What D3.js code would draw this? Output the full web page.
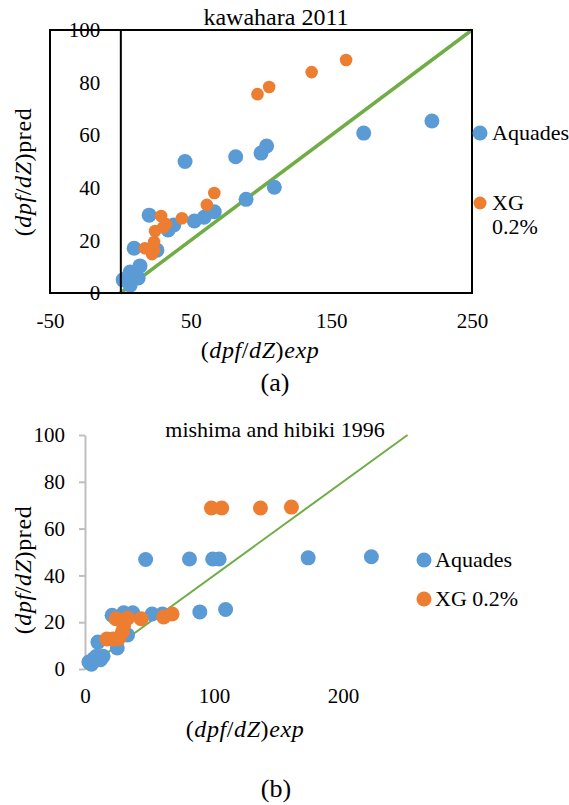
<!DOCTYPE html>
<html>
<head>
<meta charset="utf-8">
<script src="https://cdn.jsdelivr.net/npm/d3@7"></script>
<style>
  body { margin: 0; background: #fff; }
  svg { display: block; font-family: "Times New Roman", "Liberation Serif", serif; }
</style>
</head>
<body>
<svg id="chart" width="569" height="805"></svg>
<script>
"use strict";

// (a) kawahara 2011 : [exp, pred]
const aquadesA = [[2, 5], [4.7, 5.7], [7, 3], [7, 8], [10.5, 6.1], [12.7, 5.7], [14, 10.3], [9.8, 17],
    [26, 16.3], [20.5, 29.6], [34, 24], [38, 25.9], [46, 50], [52.6, 27.4], [59.6, 28.8], [66.8, 30.9],
    [82, 51.8], [89.4, 35.6], [100, 53.2], [104, 55.9], [109.5, 40.2], [173, 60.8], [221.5, 65.4]];
const xgA = [[17.5, 17], [22.5, 14.8], [24, 16.3], [24, 19.4], [24.7, 23.6], [30.5, 25], [29, 29.3],
    [32.5, 26.2], [43.8, 28.4], [61.5, 33.5], [66.8, 38], [97.5, 75.6], [105.8, 78.3], [136, 84], [160.5, 88.6]];

// (b) mishima and hibiki 1996 : [exp, pred]
const aquadesB = [[3, 3], [5, 2], [7, 4.5], [9, 5.5], [12, 4], [14, 5.5], [10, 11.5], [25, 9], [33, 14.5],
    [21, 23], [30, 24], [37, 24], [52, 23.5], [60, 23.5], [47, 46.8], [81, 47], [99, 47], [104, 47],
    [173, 47.5], [222, 48], [89, 24.4], [109, 25.4]];
const xgB = [[17, 12.8], [22, 12.8], [26, 13], [29, 15.8], [30, 18.8], [24, 21.5], [33, 21.8], [43.5, 21.5],
    [61, 22.2], [67.5, 23.5], [98, 68.8], [106, 68.8], [136, 68.8], [160, 69.2]];

// y = 0.4 x reference line
const refLine = [[0, 0], [250, 100]];

const yTicks = [0, 20, 40, 60, 80, 100];
const xTicksA = [-50, 50, 150, 250];
const xTicksB = [0, 100, 200];

const blue = "#5B9BD5", orange = "#ED7D31", green = "#70AD47";

const svg = d3.select("#chart");

// axis title with italic math parts
function mathLabel(sel, parts) {
    parts.forEach(([t, it]) => sel.append("tspan").text(t).attr("font-style", it ? "italic" : "normal"));
}
const expParts = [["(", 0], ["dpf", 1], ["/", 0], ["dZ", 1], [")", 0], ["exp", 1]];
const predParts = [["(", 0], ["dpf", 1], ["/", 0], ["dZ", 1], [")", 0], ["pred", 0]];

function dots(g, data, x, y, r, color) {
    g.append("g").selectAll("circle")
        .data(data)
        .join("circle")
        .attr("cx", (d) => x(d[0]))
        .attr("cy", (d) => y(d[1]))
        .attr("r", r)
        .attr("fill", color);
}

function styleAxisText(a) {
    a.attr("font-family", null).attr("font-size", 21);
    a.selectAll("text").attr("fill", "#000");
}

const plainFormat = (d) => String(d);

/* ---------- (a) ---------- */
const xA = d3.scaleLinear().domain([-50, 250]).range([50, 472]),
    yA = d3.scaleLinear().domain([0, 100]).range([293, 30]);

svg.append("text")
    .attr("x", 276).attr("y", 25)
    .attr("text-anchor", "middle").attr("font-size", 24)
    .text("kawahara 2011");

svg.append("path")
    .datum(refLine)
    .attr("d", d3.line().x((d) => xA(d[0])).y((d) => yA(d[1])))
    .attr("stroke", green).attr("stroke-width", 3.5).attr("fill", "none");

dots(svg, aquadesA, xA, yA, 7.5, blue);
dots(svg, xgA, xA, yA, 6.3, orange);

svg.append("rect")
    .attr("x", xA(-50)).attr("y", yA(100))
    .attr("width", xA(250) - xA(-50)).attr("height", yA(0) - yA(100))
    .attr("fill", "none").attr("stroke", "#000").attr("stroke-width", 2);

const yAxisA = svg.append("g")
    .attr("transform", `translate(${xA(0)},0)`)
    .call(d3.axisLeft(yA).tickValues(yTicks).tickFormat(plainFormat).tickSize(0).tickPadding(20));
yAxisA.select(".domain").attr("stroke", "#000").attr("stroke-width", 2);

const xAxisA = svg.append("g")
    .attr("transform", `translate(0,${yA(0)})`)
    .call(d3.axisBottom(xA).tickValues(xTicksA).tickFormat(plainFormat).tickSize(0).tickPadding(20));
xAxisA.select(".domain").remove();

styleAxisText(yAxisA);
styleAxisText(xAxisA);

mathLabel(svg.append("text").attr("x", 260).attr("y", 358)
    .attr("text-anchor", "middle").attr("font-size", 24).attr("letter-spacing", 0.6), expParts);
mathLabel(svg.append("text").attr("transform", "translate(31,172) rotate(-90)")
    .attr("text-anchor", "middle").attr("font-size", 24).attr("letter-spacing", 0.6), predParts);

svg.append("text").attr("x", 275).attr("y", 391)
    .attr("text-anchor", "middle").attr("font-size", 26).text("(a)");

// legend (a)
svg.append("circle").attr("cx", 480).attr("cy", 133).attr("r", 7.5).attr("fill", blue);
svg.append("text").attr("x", 492).attr("y", 140).attr("font-size", 22).text("Aquades");
svg.append("circle").attr("cx", 480).attr("cy", 203).attr("r", 6.5).attr("fill", orange);
svg.append("text").attr("x", 492).attr("y", 210).attr("font-size", 22).text("XG");
svg.append("text").attr("x", 492).attr("y", 234).attr("font-size", 22).text("0.2%");

/* ---------- (b) ---------- */
const xB = d3.scaleLinear().domain([0, 250]).range([85, 407.5]),
    yB = d3.scaleLinear().domain([0, 100]).range([669, 435]);

svg.append("text")
    .attr("x", 275).attr("y", 437)
    .attr("text-anchor", "middle").attr("font-size", 22)
    .text("mishima and hibiki 1996");

const yAxisB = svg.append("g")
    .attr("transform", `translate(${xB(0)},0)`)
    .call(d3.axisLeft(yB).tickValues(yTicks).tickFormat(plainFormat).tickSize(6).tickSizeOuter(0).tickPadding(14));
yAxisB.selectAll(".domain, line").attr("stroke", "#BFBFBF").attr("stroke-width", 2);

const xAxisB = svg.append("g")
    .attr("transform", `translate(0,${yB(0)})`)
    .call(d3.axisBottom(xB).tickValues(xTicksB).tickFormat(plainFormat).tickSize(0).tickPadding(19));
xAxisB.select(".domain").remove();

styleAxisText(yAxisB);
styleAxisText(xAxisB);

svg.append("path")
    .datum(refLine)
    .attr("d", d3.line().x((d) => xB(d[0])).y((d) => yB(d[1])))
    .attr("stroke", green).attr("stroke-width", 2).attr("fill", "none");

dots(svg, aquadesB, xB, yB, 7.5, blue);
dots(svg, xgB, xB, yB, 7.5, orange);

mathLabel(svg.append("text").attr("x", 245).attr("y", 737)
    .attr("text-anchor", "middle").attr("font-size", 24).attr("letter-spacing", 0.6), expParts);
mathLabel(svg.append("text").attr("transform", "translate(31,570) rotate(-90)")
    .attr("text-anchor", "middle").attr("font-size", 24).attr("letter-spacing", 0.6), predParts);

svg.append("text").attr("x", 276).attr("y", 797)
    .attr("text-anchor", "middle").attr("font-size", 26).text("(b)");

// legend (b)
svg.append("circle").attr("cx", 424).attr("cy", 560).attr("r", 7.5).attr("fill", blue);
svg.append("text").attr("x", 435).attr("y", 567).attr("font-size", 22).text("Aquades");
svg.append("circle").attr("cx", 424).attr("cy", 599).attr("r", 7.5).attr("fill", orange);
svg.append("text").attr("x", 435).attr("y", 606).attr("font-size", 22).text("XG 0.2%");
</script>
</body>
</html>
